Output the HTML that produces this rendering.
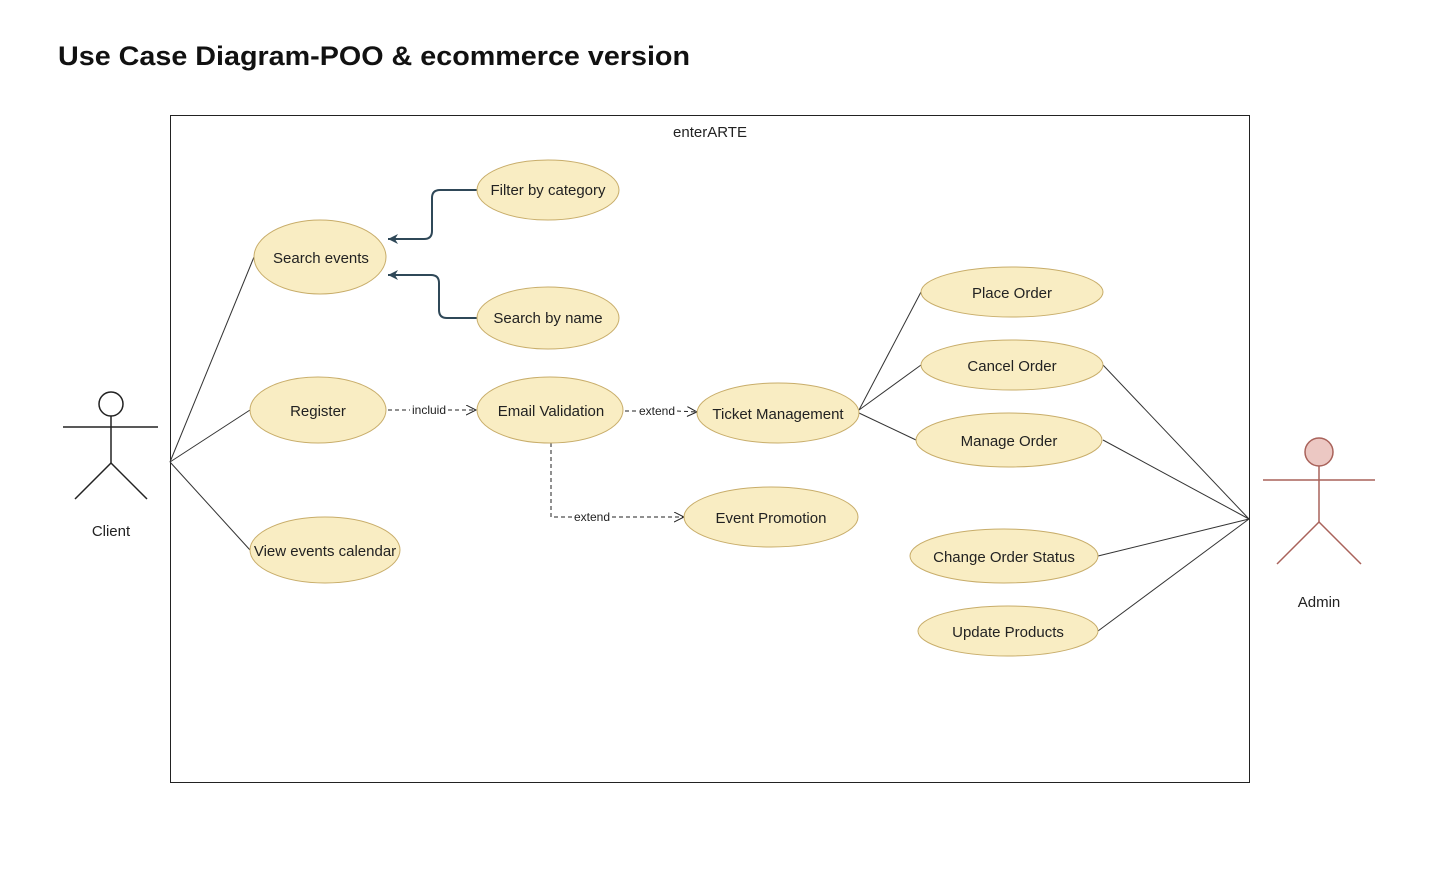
<!DOCTYPE html>
<html><head><meta charset="utf-8"><style>
html,body{margin:0;padding:0;background:#fff;width:1432px;height:874px;overflow:hidden}
svg{display:block}
text{font-family:"Liberation Sans",sans-serif}
</style></head><body>
<svg width="1432" height="874" viewBox="0 0 1432 874" xmlns="http://www.w3.org/2000/svg">
<defs>
<marker id="open" markerWidth="12" markerHeight="12" refX="10" refY="5" orient="auto" markerUnits="userSpaceOnUse"><path d="M0,0 L10,5 L0,10" fill="none" stroke="#222" stroke-width="1"/></marker>
<marker id="solid" markerWidth="12" markerHeight="12" refX="10" refY="5" orient="auto" markerUnits="userSpaceOnUse"><path d="M0,0 L10,5 L0,10 L3,5 Z" fill="#2f4858"/></marker>
</defs>
<text x="58" y="65" font-size="27" font-weight="bold" fill="#111" textLength="632" lengthAdjust="spacingAndGlyphs">Use Case Diagram-POO &amp; ecommerce version</text>
<rect x="170.5" y="115.5" width="1079" height="667" fill="none" stroke="#222" stroke-width="1"/>
<text x="710" y="137" font-size="15" text-anchor="middle" fill="#222">enterARTE</text>
<g stroke="#333" stroke-width="1" fill="none">
<line x1="170" y1="462" x2="254" y2="257"/>
<line x1="170" y1="462" x2="250" y2="410"/>
<line x1="170" y1="462" x2="250" y2="550"/>
<line x1="859" y1="410" x2="921" y2="292"/>
<line x1="859" y1="410" x2="921" y2="365"/>
<line x1="859" y1="413" x2="916" y2="440"/>
<line x1="1249" y1="519" x2="1103" y2="365"/>
<line x1="1249" y1="519" x2="1103" y2="440"/>
<line x1="1249" y1="519" x2="1098" y2="556"/>
<line x1="1249" y1="519" x2="1098" y2="631"/>
</g>
<g stroke="#2f4858" stroke-width="2" fill="none">
<path d="M477,190 H440 Q432,190 432,198 V231 Q432,239 424,239 H388" marker-end="url(#solid)"/>
<path d="M477,318 H447 Q439,318 439,310 V283 Q439,275 431,275 H388" marker-end="url(#solid)"/>
</g>
<g stroke="#222" stroke-width="1" fill="none" stroke-dasharray="4,3">
<line x1="388" y1="410" x2="410" y2="410"/>
<line x1="448" y1="410" x2="476" y2="410" marker-end="url(#open)"/>
<line x1="625" y1="411" x2="637" y2="411"/>
<line x1="677" y1="411" x2="697" y2="412" marker-end="url(#open)"/>
<path d="M551,443 V517 H572"/>
<line x1="612" y1="517" x2="684" y2="517" marker-end="url(#open)"/>
</g>
<g font-size="12" fill="#222" text-anchor="middle">
<text x="429" y="414">incluid</text>
<text x="657" y="415">extend</text>
<text x="592" y="521">extend</text>
</g>
<g fill="#f9edc3" stroke="#c8ad6a" stroke-width="1">
<ellipse cx="548" cy="190" rx="71" ry="30"/>
<ellipse cx="320" cy="257" rx="66" ry="37"/>
<ellipse cx="548" cy="318" rx="71" ry="31"/>
<ellipse cx="318" cy="410" rx="68" ry="33"/>
<ellipse cx="550" cy="410" rx="73" ry="33"/>
<ellipse cx="778" cy="413" rx="81" ry="30"/>
<ellipse cx="771" cy="517" rx="87" ry="30"/>
<ellipse cx="325" cy="550" rx="75" ry="33"/>
<ellipse cx="1012" cy="292" rx="91" ry="25"/>
<ellipse cx="1012" cy="365" rx="91" ry="25"/>
<ellipse cx="1009" cy="440" rx="93" ry="27"/>
<ellipse cx="1004" cy="556" rx="94" ry="27"/>
<ellipse cx="1008" cy="631" rx="90" ry="25"/>
</g>
<g font-size="15" fill="#222" text-anchor="middle">
<text x="548" y="195">Filter by category</text>
<text x="321" y="263">Search events</text>
<text x="548" y="323">Search by name</text>
<text x="318" y="416">Register</text>
<text x="551" y="416">Email Validation</text>
<text x="778" y="419">Ticket Management</text>
<text x="771" y="523">Event Promotion</text>
<text x="325" y="556">View events calendar</text>
<text x="1012" y="298">Place Order</text>
<text x="1012" y="371">Cancel Order</text>
<text x="1009" y="446">Manage Order</text>
<text x="1004" y="562">Change Order Status</text>
<text x="1008" y="637">Update Products</text>
</g>
<g stroke="#222" stroke-width="1.5" fill="none">
<circle cx="111" cy="404" r="12" fill="#fff"/>
<line x1="63" y1="427" x2="158" y2="427"/>
<line x1="111" y1="416" x2="111" y2="463"/>
<line x1="111" y1="463" x2="75" y2="499"/>
<line x1="111" y1="463" x2="147" y2="499"/>
</g>
<text x="111" y="536" font-size="15" text-anchor="middle" fill="#222">Client</text>
<g stroke="#a9625a" stroke-width="1.5" fill="none">
<circle cx="1319" cy="452" r="14" fill="#ecc8c3"/>
<line x1="1263" y1="480" x2="1375" y2="480"/>
<line x1="1319" y1="466" x2="1319" y2="522"/>
<line x1="1319" y1="522" x2="1277" y2="564"/>
<line x1="1319" y1="522" x2="1361" y2="564"/>
</g>
<text x="1319" y="607" font-size="15" text-anchor="middle" fill="#222">Admin</text>
</svg>
</body></html>
